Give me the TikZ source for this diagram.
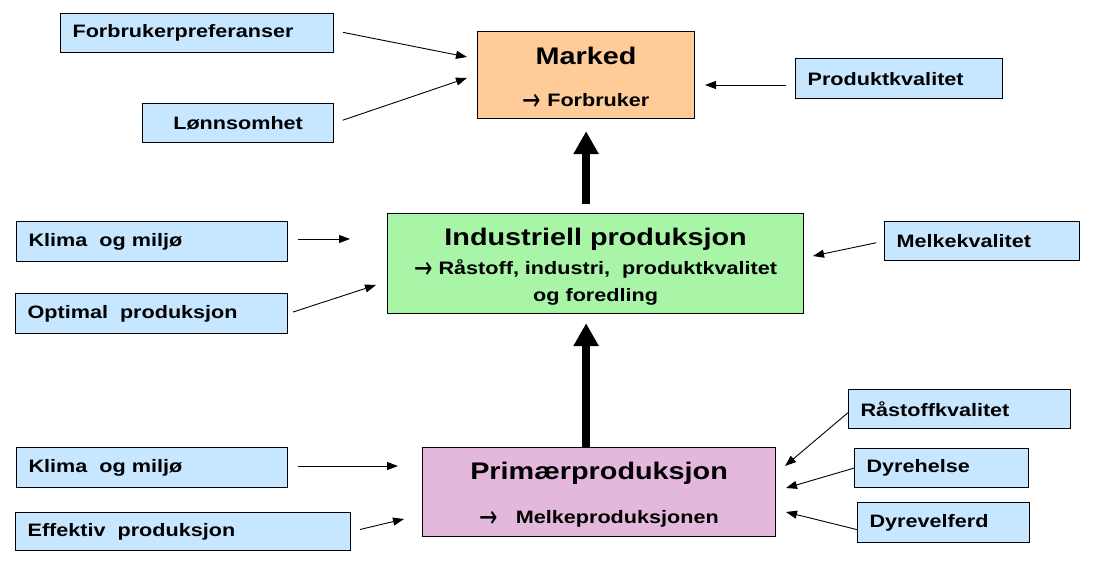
\documentclass[tikz,border=0pt]{standalone}
\usepackage{fontspec}
\setmainfont{Liberation Sans}[FakeStretch=1.2]
\newfontfamily\arrowfont{DejaVu Sans}
\usepackage{graphicx}
\usepackage{xcolor}
\usepackage{tikz}
\usetikzlibrary{arrows.meta}
\definecolor{factorblue}{RGB}{198,231,255}
\definecolor{marketorange}{RGB}{255,204,153}
\definecolor{industrygreen}{RGB}{168,245,168}
\definecolor{primarypink}{RGB}{228,184,220}
\tikzset{
    factor/.style={draw, line width=1.2pt, fill=factorblue, anchor=north west, align=left, inner xsep=12pt, inner ysep=0pt, font=\bfseries\fontsize{18}{22}\selectfont},
    stage/.style={draw, line width=1.2pt, anchor=north west, align=center, inner sep=0pt, font=\bfseries\fontsize{18}{22}\selectfont},
    link/.style={-{Triangle[length=11pt,width=8pt]}, line width=0.9pt},
    flow/.style={-{Triangle[length=23pt,width=24pt]}, line width=8pt}
}
\newcommand{\headline}[1]{{\fontsize{24}{28}\selectfont #1}}
\newcommand{\toarrow}{{\arrowfont\mdseries\fontsize{22}{22}\selectfont\smash{\raisebox{-4pt}{\scalebox{1}[1.4]{→}}}}}

\begin{document}
\begin{tikzpicture}[x=1pt, y=-1pt]
    \useasboundingbox (0,0) rectangle (1094,576);

    % stages
    \node[stage, fill=marketorange, minimum width=217pt, minimum height=87pt] (marked) at (477,31) {\rule{0pt}{20pt}\headline{Marked}\\[20pt]\toarrow\ Forbruker};
    \node[stage, fill=industrygreen, minimum width=416pt, minimum height=100pt] (indprod) at (387,213) {\rule{0pt}{24pt}\headline{Industriell produksjon}\\[7pt]\toarrow\ Råstoff, industri,\ \ produktkvalitet\\[5pt]og foredling};
    \node[stage, fill=primarypink, minimum width=353pt, minimum height=89pt] (primprod) at (422,447) {\rule{0pt}{22pt}\headline{Primærproduksjon}\\[22pt]\toarrow\ \ \ Melkeproduksjonen};

    % factors
    \node[factor, minimum width=273pt, minimum height=39pt, text width=249pt] (fpref) at (60,13) {Forbrukerpreferanser};
    \node[factor, minimum width=191pt, minimum height=39pt, text width=167pt, align=center] (lonn) at (142,103) {Lønnsomhet};
    \node[factor, minimum width=207pt, minimum height=40pt, text width=183pt] (prodk) at (795,58) {Produktkvalitet};
    \node[factor, minimum width=271pt, minimum height=40pt, text width=247pt] (klimaA) at (16,221) {Klima\ \ og miljø};
    \node[factor, minimum width=272pt, minimum height=40pt, text width=248pt] (optprod) at (15,293) {Optimal\ \ produksjon};
    \node[factor, minimum width=195pt, minimum height=39pt, text width=171pt] (melk) at (884,221) {Melkekvalitet};
    \node[factor, minimum width=271pt, minimum height=40pt, text width=247pt] (klimaB) at (16,447) {Klima\ \ og miljø};
    \node[factor, minimum width=335pt, minimum height=38pt, text width=311pt] (effprod) at (15,512) {Effektiv\ \ produksjon};
    \node[factor, minimum width=222pt, minimum height=39pt, text width=198pt] (rastoff) at (848,389) {Råstoffkvalitet};
    \node[factor, minimum width=174pt, minimum height=39pt, text width=150pt] (dyreh) at (854,448) {Dyrehelse};
    \node[factor, minimum width=172pt, minimum height=40pt, text width=148pt] (dyrev) at (857,502) {Dyrevelferd};

    % arrow tips
    \coordinate (m-a) at (467,57);
    \coordinate (m-b) at (467,78);
    \coordinate (m-c) at (705,85);
    \coordinate (i-a) at (350,239);
    \coordinate (i-b) at (376,285);
    \coordinate (i-c) at (813,256);
    \coordinate (p-a) at (398,466);
    \coordinate (p-b) at (404,519);
    \coordinate (p-c) at (785,466);
    \coordinate (p-d) at (786,488);
    \coordinate (p-e) at (786,512);

    \draw[flow, shorten <=9pt] (marked.south |- indprod.north) -- ([yshift=-12pt]marked.south);
    \draw[flow] (marked.south |- primprod.north) -- ([yshift=-9pt]marked.south |- indprod.south);

    \draw[link, shorten <=9pt] ([yshift=2.5pt]fpref.east) -- (m-a);
    \draw[link, shorten <=9pt] (lonn.east) -- (m-b);
    \draw[link, shorten <=9pt] (prodk.west |- m-c) -- (m-c);
    \draw[link, shorten <=10pt] (klimaA.east |- i-a) -- (i-a);
    \draw[link, shorten <=5pt] (optprod.east) -- (i-b);
    \draw[link, shorten <=8pt] (melk.west) -- (i-c);
    \draw[link, shorten <=10pt] (klimaB.east |- p-a) -- (p-a);
    \draw[link, shorten <=9pt] (effprod.east) -- (p-b);
    \draw[link] ([yshift=-3.5pt]rastoff.west) -- (p-c);
    \draw[link] (dyreh.west) -- (p-d);
    \draw[link] ([yshift=-7pt]dyrev.west) -- (p-e);
\end{tikzpicture}
\end{document}
